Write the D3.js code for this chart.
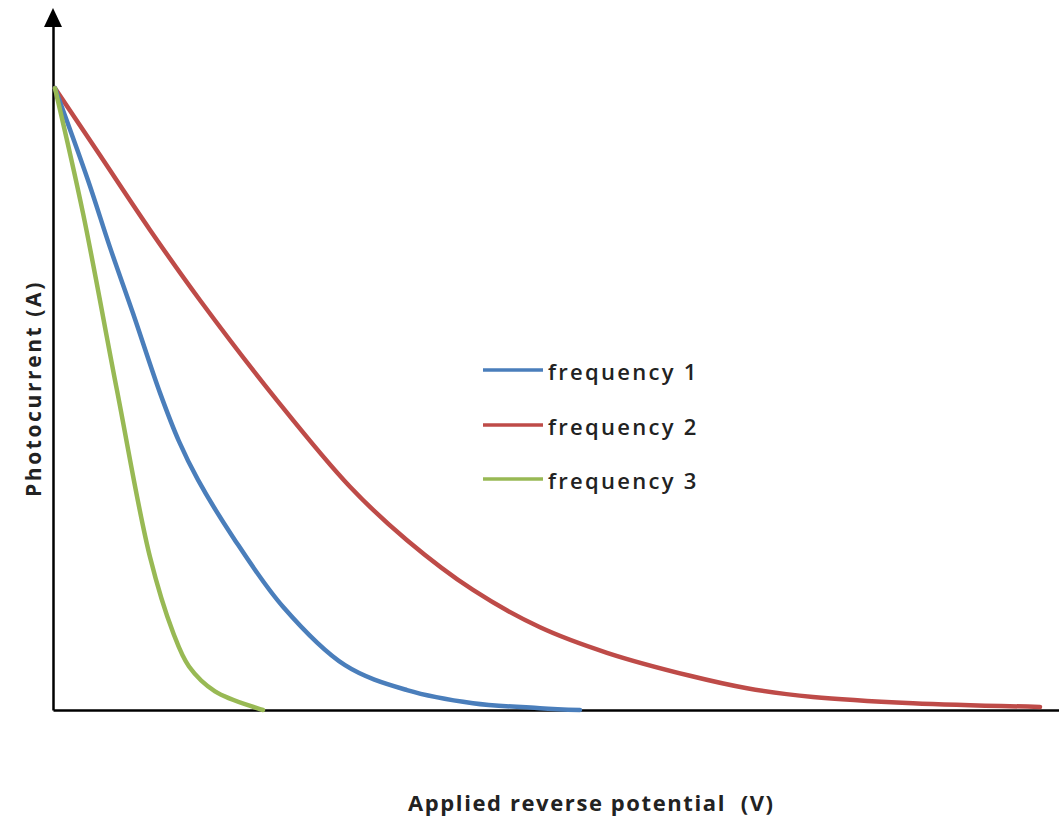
<!DOCTYPE html>
<html>
<head>
<meta charset="utf-8">
<script src="https://cdn.jsdelivr.net/npm/d3@7"></script>
<style>
  html, body { margin: 0; padding: 0; background: #fff; }
  svg { display: block; }
</style>
</head>
<body>
<div id="chart"></div>
<script>
// Data (arbitrary units)
const seriesNames = ["frequency 1", "frequency 2", "frequency 3"];
const seriesColors = ["#4a7ebb", "#be4b48", "#98b954"];

const freq1 = [
  [0.02, 1.0], [0.35, 0.852], [0.57, 0.744], [0.80, 0.638], [1.07, 0.510],
  [1.26, 0.432], [1.45, 0.370], [1.80, 0.278], [2.30, 0.166], [2.92, 0.072],
  [3.54, 0.032], [4.20, 0.011], [4.87, 0.003], [5.27, 0.0]
];
const freq2 = [
  [0.02, 1.0], [0.47, 0.892], [0.97, 0.772], [1.47, 0.659], [2.24, 0.498],
  [2.97, 0.359], [3.54, 0.273], [4.20, 0.193], [4.87, 0.133], [5.54, 0.092],
  [6.37, 0.055], [6.94, 0.035], [7.60, 0.021], [8.60, 0.011], [9.87, 0.005]
];
const freq3 = [
  [0.02, 1.0], [0.30, 0.799], [0.64, 0.514], [0.97, 0.246], [1.20, 0.125],
  [1.36, 0.070], [1.62, 0.030], [2.04, 0.003], [2.10, 0.0]
];
const allSeries = [freq1, freq2, freq3];

const xTitle = "Applied reverse potential  (V)";
const yTitle = "Photocurrent (A)";

const W = 1059, H = 822;
const svg = d3.select("#chart").append("svg")
  .attr("width", W).attr("height", H);

const x = d3.scaleLinear().domain([0, 10.06]).range([53, 1059]);
const y = d3.scaleLinear().domain([0, 1.1]).range([710, 26]);

// Axes (no ticks)
const gx = svg.append("g")
  .attr("transform", `translate(0,${y(0)})`)
  .call(d3.axisBottom(x).tickValues([]).tickSizeOuter(0));
gx.select(".domain").attr("stroke", "#000").attr("stroke-width", 2.5);

const gy = svg.append("g")
  .attr("transform", `translate(${x(0)},0)`)
  .call(d3.axisLeft(y).tickValues([]).tickSizeOuter(0));
gy.select(".domain").attr("stroke", "#000").attr("stroke-width", 2.5);

// Arrow head on y axis
const ax = x(0), ab = y(1.1);
svg.append("path")
  .attr("d", `M${ax},8 L${ax - 9},${ab + 1} L${ax + 9},${ab + 1} Z`)
  .attr("fill", "#000");

// Lines
const line = d3.line()
  .x(d => x(d[0]))
  .y(d => y(d[1]))
  .curve(d3.curveCatmullRom.alpha(0.5));

[1, 0, 2].forEach(i => {
  svg.append("path")
    .datum(allSeries[i])
    .attr("d", line)
    .attr("fill", "none")
    .attr("stroke", seriesColors[i])
    .attr("stroke-width", 4.5)
    .attr("stroke-linecap", "round")
    .attr("stroke-linejoin", "round");
});

// Legend
const legendY = [370, 425, 479];
seriesNames.forEach((name, i) => {
  svg.append("line")
    .attr("x1", 483).attr("x2", 543)
    .attr("y1", legendY[i]).attr("y2", legendY[i])
    .attr("stroke", seriesColors[i]).attr("stroke-width", 3.5);
  svg.append("text")
    .attr("x", 548).attr("y", legendY[i] + 10)
    .attr("font-family", "'Open Sans', sans-serif")
    .attr("font-size", 22)
    .attr("font-weight", 600)
    .attr("letter-spacing", "2.3px")
    .attr("fill", "#222")
    .text(name);
});

// Axis titles
svg.append("text")
  .attr("x", 408).attr("y", 811)
  .attr("font-family", "'Open Sans', sans-serif")
  .attr("font-size", 22)
  .attr("font-weight", "bold")
  .attr("letter-spacing", "1.6px")
  .attr("fill", "#222")
  .style("white-space", "pre")
  .text(xTitle);

svg.append("text")
  .attr("transform", "translate(41,497) rotate(-90)")
  .attr("font-family", "'Open Sans', sans-serif")
  .attr("font-size", 21)
  .attr("font-weight", "bold")
  .attr("letter-spacing", "2.6px")
  .attr("fill", "#222")
  .text(yTitle);
</script>
</body>
</html>
